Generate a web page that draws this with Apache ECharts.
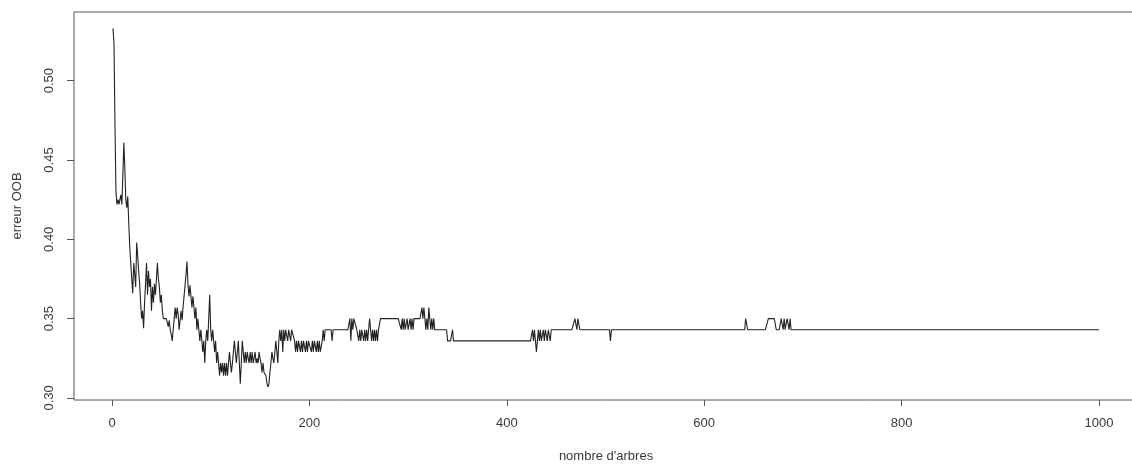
<!DOCTYPE html>
<html>
<head>
<meta charset="utf-8">
<title>erreur OOB</title>
<script src="https://cdn.jsdelivr.net/npm/echarts@6/dist/echarts.min.js"></script>
<style>
body{margin:0;background:#fff;}
#main{width:1132px;height:464px;}
</style>
</head>
<body>
<div id="main"></div>
<script>
// erreur OOB, arbres 1-100
var errA = [
0.533,0.524,0.473,0.43,0.422,0.425,0.422,0.425,0.428,0.422,
0.44,0.461,0.445,0.425,0.42,0.427,0.41,0.395,0.385,0.375,
0.366,0.385,0.378,0.37,0.398,0.39,0.38,0.372,0.36,0.35,
0.355,0.344,0.36,0.372,0.385,0.365,0.38,0.37,0.375,0.355,
0.37,0.36,0.372,0.365,0.375,0.385,0.375,0.37,0.36,0.365,
0.355,0.35,0.35,0.349,0.35,0.349,0.345,0.349,0.343,0.34,
0.336,0.343,0.35,0.357,0.35,0.357,0.353,0.343,0.349,0.355,
0.349,0.357,0.364,0.371,0.378,0.386,0.371,0.364,0.371,0.364,
0.357,0.364,0.357,0.35,0.357,0.343,0.35,0.343,0.336,0.343,
0.336,0.329,0.336,0.322,0.336,0.343,0.336,0.35,0.365,0.343
];
// arbres 101-200
var errB = [
0.336,0.343,0.336,0.329,0.336,0.322,0.329,0.322,0.314,0.322,
0.316,0.322,0.314,0.322,0.314,0.322,0.314,0.322,0.329,0.322,
0.316,0.322,0.329,0.336,0.329,0.322,0.329,0.336,0.322,0.309,
0.322,0.336,0.329,0.322,0.329,0.322,0.329,0.325,0.322,0.329,
0.322,0.329,0.322,0.325,0.329,0.322,0.325,0.322,0.329,0.325,
0.322,0.316,0.322,0.316,0.316,0.314,0.309,0.307,0.309,0.316,
0.322,0.329,0.325,0.322,0.329,0.336,0.329,0.322,0.336,0.343,
0.336,0.343,0.329,0.343,0.336,0.343,0.343,0.336,0.343,0.343,
0.336,0.343,0.343,0.343,0.336,0.329,0.336,0.329,0.336,0.336,
0.329,0.336,0.329,0.336,0.336,0.329,0.336,0.329,0.336,0.336
];
// arbres 201-346
var errC = [
0.336,0.329,0.336,0.329,0.336,0.336,0.329,0.336,0.329,0.336,
0.329,0.329,0.336,0.343,0.336,0.343,0.343,0.343,0.343,0.343,
0.343,0.343,0.336,0.343,0.343,0.343,0.343,0.343,0.343,0.343,
0.343,0.343,0.343,0.343,0.343,0.343,0.343,0.343,0.343,0.343,
0.35,0.336,0.35,0.343,0.35,0.35,0.35,0.343,0.343,0.336,
0.343,0.336,0.343,0.343,0.336,0.343,0.336,0.343,0.336,0.343,
0.35,0.343,0.336,0.343,0.336,0.343,0.336,0.343,0.336,0.343,
0.343,0.35,0.35,0.35,0.35,0.35,0.35,0.35,0.35,0.35,
0.35,0.35,0.35,0.35,0.35,0.35,0.35,0.35,0.35,0.35,
0.35,0.35,0.343,0.35,0.343,0.35,0.343,0.343,0.35,0.343,
0.343,0.35,0.343,0.35,0.343,0.35,0.35,0.35,0.35,0.35,
0.35,0.35,0.35,0.357,0.35,0.357,0.35,0.343,0.35,0.343,
0.357,0.35,0.343,0.35,0.343,0.35,0.343,0.343,0.343,0.343,
0.343,0.343,0.343,0.343,0.343,0.343,0.343,0.343,0.343,0.336,
0.336,0.336,0.336,0.336,0.343,0.336
];
// arbres 347-1000 (valeur, nombre d'arbres consecutifs)
var tailVals = [0.336,0.343,0.336,0.343,0.336,0.329,0.336,0.343,0.336,0.343,0.336,0.343,0.336,0.343,0.336,0.343,0.336,0.343,
	0.35,0.343,0.35,0.343,0.336,0.343,0.35,0.343,0.35,0.343,0.35,0.343,0.35,0.343,0.35,0.343,0.35,0.343];
var tailRuns = [79,1,1,1,1,1,1,1,1,1,2,1,1,2,1,2,1,24,
	2,1,2,31,1,136,2,21,8,5,2,1,1,2,2,1,1,313];

var xTicks = [0,200,400,600,800,1000];
var yTicks = [0.30,0.35,0.40,0.45,0.50];

var errAll = errA.concat(errB).concat(errC);
for(var i = 0; i < tailVals.length; i++){
	for(var j = 0; j < tailRuns[i]; j++){
		errAll.push(tailVals[i]);
	}
}
var seriesData = [];
for(var k = 0; k < errAll.length; k++){
	seriesData.push([k+1, errAll[k]]);
}

var fontF = '"Liberation Sans", Arial, sans-serif';
var txtCol = '#3a3a3a';
var myChart = echarts.init(document.getElementById('main'));
myChart.setOption({
	animation:false,
	backgroundColor:'#fff',
	grid:{left:74,right:-6,top:12,bottom:64,outerBoundsMode:'none',containLabel:false,
		show:true,borderColor:'#555',borderWidth:1,backgroundColor:'transparent'},
	xAxis:{
		type:'value',min:-38.5,max:1039.5,
		name:"nombre d'arbres",nameLocation:'middle',nameGap:50,
		nameTextStyle:{fontFamily:fontF,fontSize:13,color:txtCol},
		axisLine:{show:false,onZero:false},
		splitLine:{show:false},
		axisTick:{show:true,length:6,customValues:xTicks,lineStyle:{color:'#555'}},
		axisLabel:{customValues:xTicks,margin:17,fontFamily:fontF,fontSize:13,color:txtCol,
			formatter:function(v){return String(v);}}
	},
	yAxis:{
		type:'value',min:0.2987,max:0.5433,
		name:'erreur OOB',nameLocation:'middle',nameGap:50,
		nameTextStyle:{fontFamily:fontF,fontSize:13,color:txtCol},
		axisLine:{show:false,onZero:false},
		splitLine:{show:false},
		axisTick:{show:true,length:7,customValues:yTicks,lineStyle:{color:'#555'}},
		axisLabel:{customValues:yTicks,rotate:90,margin:18,fontFamily:fontF,fontSize:13,color:txtCol,
			formatter:function(v){return v.toFixed(2);}}
	},
	series:[{
		type:'line',
		data:seriesData,
		showSymbol:false,
		lineStyle:{color:'#222',width:1.1}
	}]
});
</script>
</body>
</html>
